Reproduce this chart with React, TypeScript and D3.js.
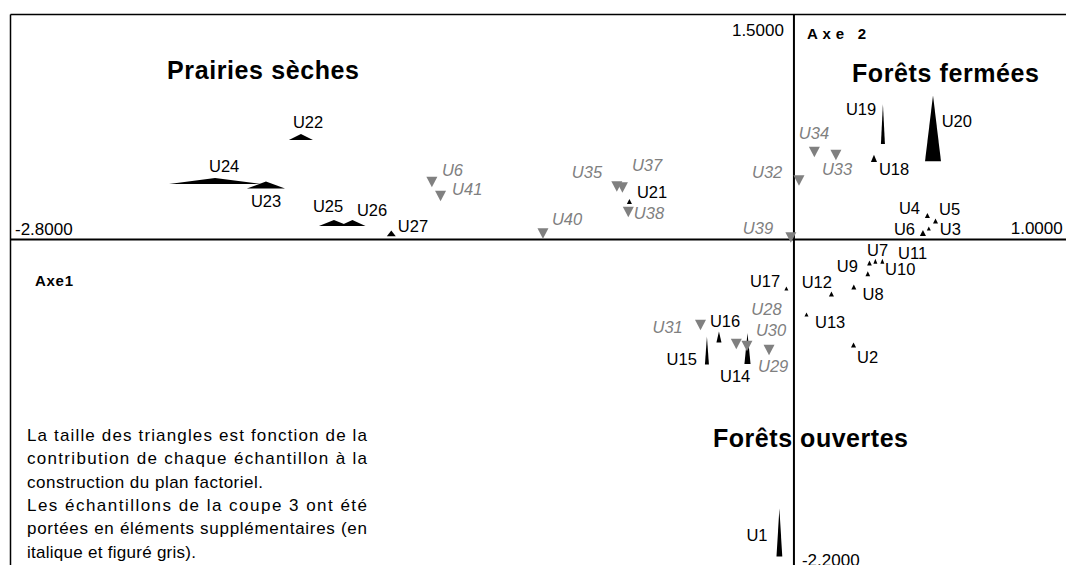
import React from 'react';
import * as d3 from 'd3';

const W = 1066;
const H = 565;

// échantillons actifs : coordonnées sur les axes 1 et 2, contributions aux axes
const activeNames = ['U1', 'U2', 'U3', 'U4', 'U5', 'U6', 'U7', 'U8', 'U9', 'U10', 'U11', 'U12', 'U13', 'U14',
  'U15', 'U16', 'U17', 'U18', 'U19', 'U20', 'U21', 'U22', 'U23', 'U24', 'U25', 'U26', 'U27'];
const activeAxe1 = [-0.052, 0.213, 0.482, 0.477, 0.506, 0.461, 0.270, 0.214, 0.264, 0.291, 0.316, 0.134, 0.045, -0.166,
  -0.311, -0.268, -0.027, 0.286, 0.318, 0.497, -0.588, -1.762, -1.887, -2.069, -1.644, -1.578, -1.439];
const activeAxe2 = [-1.953, -0.703, 0.073, 0.160, 0.123, 0.043, -0.157, -0.317, -0.228, -0.145, -0.145, -0.363, -0.500, -0.727,
  -0.740, -0.650, -0.327, 0.541, 0.770, 0.741, 0.253, 0.683, 0.363, 0.390, 0.110, 0.110, 0.041];
const activeCtr1 = [0.5, 0.3, 0, 0.3, 0.3, 0.6, 0.2, 0.3, 0.2, 0, 0, 0.3, 0, 0.6,
  0, 0.3, 0, 0.6, 0, 3.4, 0.3, 5.7, 9.7, 25.0, 7.4, 6.3, 1.4];
const activeCtr2 = [14.2, 0.3, 0, 0.3, 0.3, 0.6, 0.3, 0.3, 0.3, 0.3, 0.3, 0.3, 0, 8.7,
  7.7, 2.3, 0, 1.0, 11.6, 20.0, 0.3, 0.6, 1.0, 0.6, 0.6, 0.6, 0.6];

// échantillons supplémentaires (coupe 3)
const supNames = ['U6', 'U28', 'U29', 'U30', 'U31', 'U32', 'U33', 'U34', 'U35', 'U37', 'U38', 'U39', 'U40', 'U41'];
const supAxe1 = [-1.294, -0.206, -0.089, -0.168, -0.334, 0.018, 0.150, 0.073, -0.633, -0.613, -0.592, -0.011, -0.897, -1.263];
const supAxe2 = [0.383, -0.697, -0.737, -0.710, -0.570, 0.393, 0.563, 0.583, 0.353, 0.347, 0.183, 0.013, 0.040, 0.290];

// placement des étiquettes (décalage en px depuis le point)
const activeLabelPos = [[-33, 9], [3.5, 18], [11, 6.5], [-28.5, -1.5], [3.5, -6], [-29, 2], [-2.5, -7.3], [8.7, 13],
  [-31, -2], [9.7, 13.7], [15.7, -2.3], [-29.8, -6.3], [8.5, 13.2], [-27.5, 33.2], [-40.3, 14.5], [-9, -10],
  [-36.5, -1.8], [5, 16.7], [-37, -9], [8.7, -1.6], [7.5, -3.5], [-8, -9], [-15, 21.7], [-6, -9.3], [-21, -11.3],
  [4.5, -7], [6.5, -1.3]];
const supLabelPos = [[10, -6], [15, -29], [-11, 22], [9, -10], [-48, 8], [-47, -2.5], [-14, 20], [-15.5, -13],
  [-45, -8.5], [9.5, -16.5], [5.5, 7], [-48, -3.5], [9, -8.5], [11.5, -1]];

const noteLines = [
  'La taille des triangles est fonction de la',
  'contribution de chaque échantillon à la',
  'construction du plan factoriel.',
  'Les échantillons de la coupe 3 ont été',
  'portées en éléments supplémentaires (en',
  'italique et figuré gris).',
];
const noteWidths = [340, 340, 236, 340, 340, 169];

const FONT = "Arial, 'Liberation Sans', sans-serif";
const GREY = '#808080';

const App = () => {
  const x = d3.scaleLinear().domain([-2.8, 1.0]).range([10.5, 10.5 + 3.8 * 279.8]);
  const y = d3.scaleLinear().domain([1.5, -2.2]).range([14.5, 14.5 + 3.7 * 150]);
  const wScale = d3.scaleLinear().domain([0, 25]).range([4, 92]);
  const hScale = d3.scaleLinear().domain([0, 20]).range([4, 66]);

  const upTri = (cx, cy, w, h) => {
    const p = d3.path();
    p.moveTo(cx, cy - h / 2);
    p.lineTo(cx + w / 2, cy + h / 2);
    p.lineTo(cx - w / 2, cy + h / 2);
    p.closePath();
    return p.toString();
  };
  const downTri = (cx, cy, w, h) => {
    const p = d3.path();
    p.moveTo(cx - w / 2, cy - h / 2);
    p.lineTo(cx + w / 2, cy - h / 2);
    p.lineTo(cx, cy + h / 2);
    p.closePath();
    return p.toString();
  };

  const x0 = x(0);
  const y0 = y(0);

  return (
    <svg width={W} height={H} style={{ position: 'absolute', left: 0, top: 0, background: '#fff' }} fontFamily={FONT}>
      <rect width={W} height={H} fill="#fff" />
      {/* cadre */}
      <line x1={x(-2.8)} x2={W} y1={y(1.5)} y2={y(1.5)} stroke="#000" strokeWidth={1.5} />
      <line x1={x(-2.8)} x2={x(-2.8)} y1={y(1.5)} y2={H} stroke="#000" strokeWidth={1.5} />
      {/* axes */}
      <line x1={x(-2.8)} x2={W} y1={y0} y2={y0} stroke="#000" strokeWidth={2} />
      <line x1={x0} x2={x0} y1={y(1.5)} y2={H} stroke="#000" strokeWidth={2} />

      <text x={x(-2.8) + 4.5} y={y0 - 4.5} fontSize={17}>-2.8000</text>
      <text x={x(1.0) - 11} y={y0 - 6} fontSize={17} textAnchor="end">1.0000</text>
      <text x={x0 - 10} y={y(1.5) + 21.5} fontSize={17} textAnchor="end">1.5000</text>
      <text x={x0 + 8} y={y(-2.2) - 3.5} fontSize={17}>-2.2000</text>

      <text x={807} y={38.5} fontSize={15} fontWeight="bold" textLength={59} lengthAdjust="spacing">Axe  2</text>
      <text x={35} y={286} fontSize={15} fontWeight="bold" textLength={38} lengthAdjust="spacing">Axe1</text>

      <text x={167} y={79} fontSize={25} fontWeight="bold" textLength={192} lengthAdjust="spacing">Prairies sèches</text>
      <text x={852} y={82} fontSize={25} fontWeight="bold" textLength={187} lengthAdjust="spacing">Forêts fermées</text>
      <text x={713} y={446.5} fontSize={25} fontWeight="bold" textLength={195} lengthAdjust="spacing">Forêts ouvertes</text>

      {noteLines.map((t, i) => (
        <text key={t} x={27} y={441 + i * 23.3} fontSize={17} textLength={noteWidths[i]} lengthAdjust="spacing">{t}</text>
      ))}

      {/* échantillons actifs */}
      {activeNames.map((n, i) => (
        <g key={'a' + n}>
          <path d={upTri(x(activeAxe1[i]), y(activeAxe2[i]), wScale(activeCtr1[i]), hScale(activeCtr2[i]))} fill="#000" />
          <text x={x(activeAxe1[i]) + activeLabelPos[i][0]} y={y(activeAxe2[i]) + activeLabelPos[i][1]} fontSize={16.5}>{n}</text>
        </g>
      ))}

      {/* échantillons supplémentaires */}
      {supNames.map((n, i) => (
        <g key={'s' + n}>
          <path d={downTri(x(supAxe1[i]), y(supAxe2[i]), 11, 10.5)} fill={GREY} />
          <text x={x(supAxe1[i]) + supLabelPos[i][0]} y={y(supAxe2[i]) + supLabelPos[i][1]} fontSize={16.5}
            fontStyle="italic" fill={GREY}>{n}</text>
        </g>
      ))}
    </svg>
  );
};

export default App;
